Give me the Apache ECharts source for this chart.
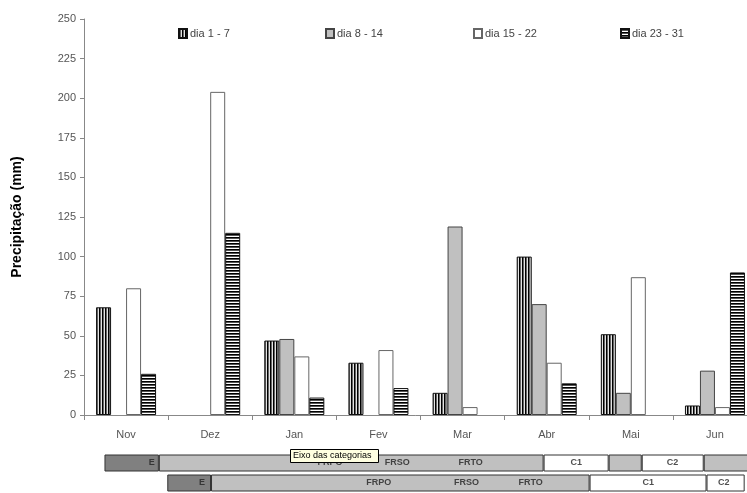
<!DOCTYPE html>
<html><head><meta charset="utf-8">
<script src="https://cdn.jsdelivr.net/npm/echarts@6/dist/echarts.min.js"></script>
<style>html,body{margin:0;padding:0;background:#fff;overflow:hidden}#c{width:747px;height:493px}</style>
</head><body><div id="c"></div>
<script>
// ---- data ----
const months = ['Nov','Dez','Jan','Fev','Mar','Abr','Mai','Jun'];
const seriesNames = ['dia 1 - 7','dia 8 - 14','dia 15 - 22','dia 23 - 31'];
const dia1_7   = [68, 0, 47, 33, 14, 100, 51, 6];
const dia8_14  = [0, 0, 48, 0, 119, 70, 14, 28];
const dia15_22 = [80, 204, 37, 41, 5, 33, 87, 5];
const dia23_31 = [26, 115, 11, 17, 0, 20, 0, 90];
const yMin = 0, yMax = 250, yStep = 25;

// phase bands (lengths in days counted from 1 Nov)
const bandRows   = ['r1','r2'];
const bandOffset = [7.3, 29.7];
const bandE      = [19.4, 15.6];
const bandFR     = [137.2, 135];
const bandC1     = [23.2, 41.7];
const bandGap    = [11.8, 0];
const bandC2     = [22.1, 13.6];
const bandTail   = [19, 0];
const bandLabelText = ['E','FRPO','FRSO','FRTO','C1','C2','E','FRPO','FRSO','FRTO','C1','C2'];
const bandLabelPos  = [24.2, 87.7, 111.7, 137.9, 175.5, 209.9, 42.1, 105.1, 136.4, 159.3, 201.2, 228.1];
const bandLabelRow  = [0,0,0,0,0,0,1,1,1,1,1,1];

// ---- patterns ----
function pat(w,h,draw){const c=document.createElement('canvas');c.width=w;c.height=h;draw(c.getContext('2d'));return c;}
const vStripe = pat(3,3,g=>{g.fillStyle='#e4e4e4';g.fillRect(0,0,3,3);g.fillStyle='#000';g.fillRect(0,0,1,3);g.fillStyle='#666';g.fillRect(1,0,1,3);});
const hStripe = pat(3,3,g=>{g.fillStyle='#fff';g.fillRect(0,0,3,3);g.fillStyle='#000';g.fillRect(0,0,3,1);g.fillStyle='#555';g.fillRect(0,1,3,1);});

const FONT = '"Liberation Sans", Arial, sans-serif';
const mk = (name, data, color, border) => ({
  name, type:'bar', xAxisIndex:0, yAxisIndex:0,
  data: data.map(v => v === 0 ? null : v),
  barWidth: 15, barGap: '0%',
  itemStyle: {color, borderColor: border, borderWidth: 1},
  emphasis: {disabled: true}
});
const band = (name, data, color, border) => ({
  name, type:'bar', stack:'band', xAxisIndex:1, yAxisIndex:1, barWidth:17, silent:true,
  data: data.map(v => v === 0 ? null : v),
  itemStyle: {color, borderColor: border || 'transparent', borderWidth: border ? 1 : 0}
});

const chart = echarts.init(document.getElementById('c'), null, {renderer:'canvas'});
const legendLefts = [178, 325, 473, 620];
chart.setOption({
  animation: false,
  backgroundColor: '#fff',
  textStyle: {fontFamily: FONT},
  legend: seriesNames.map((n,i) => ({
    data:[n], left: legendLefts[i], top: 28, padding: 0, icon: 'rect',
    itemWidth: 8, itemHeight: 9, selectedMode: false,
    textStyle: {fontSize: 11, color: '#444', fontFamily: FONT, padding:[0,0,0,-2]}
  })),
  grid: [
    {left: 84, width: 673, top: 19, bottom: 78, outerBoundsMode: 'none', containLabel: false},
    {left: 84, width: 673, top: 453, height: 40, outerBoundsMode: 'none', containLabel: false}
  ],
  xAxis: [
    {type:'category', gridIndex:0, data: months,
     axisLine:{lineStyle:{color:'#888'}},
     axisTick:{show:true, length:5, lineStyle:{color:'#888'}},
     axisLabel:{color:'#555', fontSize:11, margin:14, fontFamily: FONT}},
    {type:'value', gridIndex:1, min:0, max:240, show:false}
  ],
  yAxis: [
    {type:'value', gridIndex:0, min:yMin, max:yMax, interval:yStep,
     name:'Precipitação (mm)', nameLocation:'middle', nameGap:60,
     nameTextStyle:{fontSize:14, fontWeight:'bold', color:'#000', fontFamily: FONT},
     axisLine:{show:true, lineStyle:{color:'#888'}},
     axisTick:{show:true, length:4, lineStyle:{color:'#888'}},
     splitLine:{show:false},
     axisLabel:{color:'#555', fontSize:11, margin:8, fontFamily: FONT}},
    {type:'category', gridIndex:1, data: bandRows, inverse:true, show:false}
  ],
  series: [
    mk(seriesNames[0], dia1_7,  {image: vStripe, repeat:'repeat'}, '#111'),
    mk(seriesNames[1], dia8_14, '#c0c0c0', '#444'),
    mk(seriesNames[2], dia15_22,'#ffffff', '#666'),
    mk(seriesNames[3], dia23_31,{image: hStripe, repeat:'repeat'}, '#111'),
    band('off', bandOffset, 'transparent', null),
    band('E', bandE, '#808080', '#333'),
    band('FR', bandFR, '#c0c0c0', '#333'),
    band('C1', bandC1, '#ffffff', '#333'),
    band('gap', bandGap, '#c0c0c0', '#333'),
    band('C2', bandC2, '#ffffff', '#333'),
    band('tail', bandTail, '#c0c0c0', '#333'),
    {type:'scatter', xAxisIndex:1, yAxisIndex:1, symbolSize:0, silent:true, z:5,
     data: bandLabelText.map((t,i)=>({name:t, value:[bandLabelPos[i], bandLabelRow[i]]})),
     label:{show:true, position:'inside', formatter:'{b}', fontSize:9, fontWeight:'bold', color:'#222', fontFamily: FONT}}
  ],
  graphic: [
    {type:'rect', z:100, shape:{x:290.5, y:449.5, width:88, height:13}, style:{fill:'#ffffe1', stroke:'#000', lineWidth:1}},
    {type:'text', z:101, x:293, y:451, style:{text:'Eixo das categorias', font:'9px ' + FONT, fill:'#000'}}
  ]
});
</script></body></html>
